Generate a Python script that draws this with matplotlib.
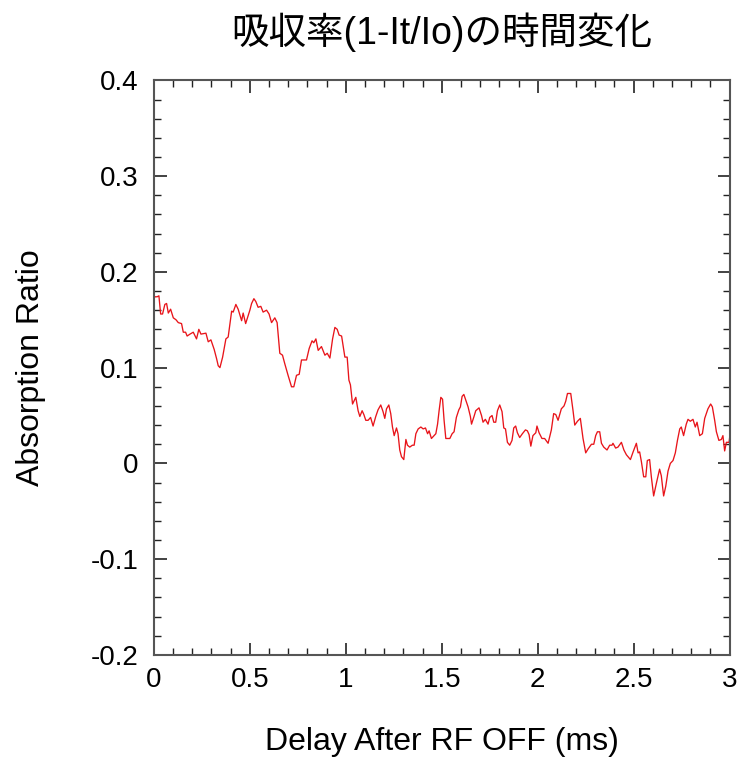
import matplotlib
matplotlib.use("Agg")
import matplotlib.pyplot as plt
from matplotlib.ticker import MultipleLocator, FuncFormatter

plt.rcParams['font.family'] = ['Liberation Sans', 'DejaVu Sans']
plt.rcParams['axes.unicode_minus'] = False

# delay after RF off (ms) and absorption ratio 1 - It/Io
delay_ms = [
    0.000, 0.005, 0.017, 0.026, 0.035, 0.045, 0.057, 0.066, 0.075, 0.087,
    0.101, 0.115, 0.127, 0.144, 0.153, 0.165, 0.173, 0.188, 0.205, 0.222,
    0.234, 0.245, 0.271, 0.283, 0.297, 0.314, 0.327, 0.335, 0.344, 0.358,
    0.375, 0.387, 0.405, 0.413, 0.427, 0.439, 0.457, 0.465, 0.478, 0.500,
    0.509, 0.521, 0.531, 0.543, 0.557, 0.569, 0.587, 0.600, 0.613, 0.630,
    0.642, 0.656, 0.670, 0.682, 0.699, 0.717, 0.729, 0.743, 0.757, 0.769,
    0.795, 0.809, 0.824, 0.833, 0.844, 0.856, 0.873, 0.891, 0.903, 0.917,
    0.931, 0.943, 0.955, 0.965, 0.978, 0.995, 1.007, 1.016, 1.024, 1.035,
    1.052, 1.064, 1.073, 1.085, 1.094, 1.104, 1.116, 1.129, 1.142, 1.156,
    1.168, 1.182, 1.194, 1.203, 1.212, 1.224, 1.234, 1.243, 1.252, 1.264,
    1.272, 1.281, 1.290, 1.302, 1.313, 1.321, 1.333, 1.347, 1.356, 1.365,
    1.377, 1.391, 1.403, 1.415, 1.426, 1.434, 1.446, 1.460, 1.469, 1.478,
    1.486, 1.495, 1.504, 1.512, 1.521, 1.542, 1.554, 1.564, 1.576, 1.589,
    1.597, 1.606, 1.615, 1.625, 1.637, 1.649, 1.655, 1.668, 1.677, 1.694,
    1.707, 1.715, 1.727, 1.741, 1.750, 1.762, 1.771, 1.781, 1.790, 1.802,
    1.814, 1.823, 1.832, 1.842, 1.854, 1.866, 1.875, 1.885, 1.894, 1.906,
    1.920, 1.936, 1.946, 1.955, 1.964, 1.975, 1.990, 1.996, 2.007, 2.022,
    2.036, 2.054, 2.071, 2.083, 2.094, 2.106, 2.123, 2.137, 2.146, 2.155,
    2.172, 2.184, 2.193, 2.207, 2.222, 2.236, 2.250, 2.262, 2.280, 2.292,
    2.302, 2.311, 2.323, 2.332, 2.344, 2.361, 2.375, 2.387, 2.392, 2.406,
    2.418, 2.436, 2.449, 2.462, 2.483, 2.497, 2.514, 2.523, 2.531, 2.540,
    2.552, 2.563, 2.571, 2.583, 2.592, 2.604, 2.618, 2.635, 2.644, 2.656,
    2.667, 2.679, 2.691, 2.705, 2.717, 2.728, 2.740, 2.748, 2.760, 2.774,
    2.783, 2.795, 2.809, 2.821, 2.830, 2.844, 2.858, 2.870, 2.887, 2.901,
    2.910, 2.922, 2.931, 2.944, 2.957, 2.965, 2.974, 2.983, 2.997, 3.000,
]
absorption = [
    0.172, 0.174, 0.174, 0.175, 0.156, 0.156, 0.166, 0.167, 0.157, 0.161,
    0.152, 0.150, 0.147, 0.146, 0.137, 0.137, 0.133, 0.135, 0.137, 0.130,
    0.140, 0.135, 0.136, 0.127, 0.129, 0.119, 0.109, 0.102, 0.100, 0.111,
    0.130, 0.132, 0.159, 0.158, 0.166, 0.161, 0.149, 0.157, 0.146, 0.160,
    0.167, 0.172, 0.169, 0.163, 0.164, 0.158, 0.160, 0.156, 0.147, 0.152,
    0.147, 0.115, 0.113, 0.104, 0.092, 0.080, 0.080, 0.092, 0.093, 0.108,
    0.108, 0.120, 0.128, 0.126, 0.130, 0.118, 0.122, 0.113, 0.115, 0.110,
    0.130, 0.142, 0.140, 0.134, 0.133, 0.111, 0.111, 0.087, 0.082, 0.062,
    0.069, 0.055, 0.049, 0.055, 0.051, 0.045, 0.045, 0.048, 0.039, 0.049,
    0.056, 0.061, 0.054, 0.047, 0.057, 0.061, 0.052, 0.038, 0.029, 0.037,
    0.031, 0.014, 0.007, 0.004, 0.025, 0.019, 0.017, 0.019, 0.019, 0.031,
    0.036, 0.038, 0.036, 0.037, 0.031, 0.034, 0.026, 0.029, 0.031, 0.041,
    0.055, 0.069, 0.067, 0.045, 0.026, 0.026, 0.031, 0.033, 0.048, 0.056,
    0.059, 0.070, 0.072, 0.066, 0.059, 0.049, 0.041, 0.049, 0.055, 0.058,
    0.050, 0.043, 0.046, 0.041, 0.048, 0.050, 0.043, 0.043, 0.055, 0.061,
    0.054, 0.037, 0.036, 0.022, 0.019, 0.024, 0.037, 0.039, 0.032, 0.027,
    0.031, 0.035, 0.034, 0.030, 0.018, 0.029, 0.032, 0.039, 0.032, 0.026,
    0.026, 0.021, 0.035, 0.052, 0.051, 0.045, 0.057, 0.060, 0.065, 0.073,
    0.073, 0.055, 0.040, 0.044, 0.047, 0.026, 0.011, 0.015, 0.020, 0.020,
    0.029, 0.033, 0.033, 0.021, 0.017, 0.014, 0.019, 0.019, 0.021, 0.016,
    0.017, 0.022, 0.014, 0.009, 0.004, 0.012, 0.021, 0.011, 0.012, 0.002,
    -0.014, -0.014, 0.003, 0.004, -0.014, -0.034, -0.021, -0.006, -0.013, -0.034,
    -0.024, -0.008, 0.000, 0.003, 0.011, 0.024, 0.036, 0.038, 0.029, 0.041,
    0.046, 0.044, 0.046, 0.038, 0.043, 0.029, 0.031, 0.047, 0.057, 0.062,
    0.059, 0.045, 0.033, 0.024, 0.025, 0.029, 0.013, 0.022, 0.022, 0.027,
]

fig = plt.figure(figsize=(7.40, 7.58), dpi=100)
ax = fig.add_axes([0.208, 0.136, 0.778, 0.758])

ax.plot(delay_ms, absorption, color='#e8141a', linewidth=0.95)

ax.set_xlim(0, 3)
ax.set_ylim(-0.2, 0.4)
ax.xaxis.set_major_locator(MultipleLocator(0.5))
ax.xaxis.set_minor_locator(MultipleLocator(0.1))
ax.yaxis.set_major_locator(MultipleLocator(0.1))
ax.yaxis.set_minor_locator(MultipleLocator(0.02))
fmt = FuncFormatter(lambda v, pos: '%g' % round(v, 3))
ax.xaxis.set_major_formatter(fmt)
ax.yaxis.set_major_formatter(fmt)

ax.tick_params(which='both', direction='in', top=True, right=True, color='#222222')
ax.tick_params(which='major', length=9, width=1.2, labelsize=20)
ax.tick_params(axis='y', which='major', pad=11)
ax.tick_params(axis='x', which='major', pad=9)
ax.tick_params(which='minor', length=5, width=1.0)
for sp in ax.spines.values():
    sp.set_color('#555555')
    sp.set_linewidth(1.5)

ax.set_xlabel('Delay After RF OFF (ms)', fontsize=23, labelpad=24)
ax.set_ylabel('Absorption Ratio', fontsize=23, labelpad=32)
ax.set_title('吸収率(1-It/Io)の時間変化', fontsize=27, pad=26,
             family=['Liberation Sans', 'Noto Sans CJK JP'])

fig.savefig('out.png', dpi=100)
